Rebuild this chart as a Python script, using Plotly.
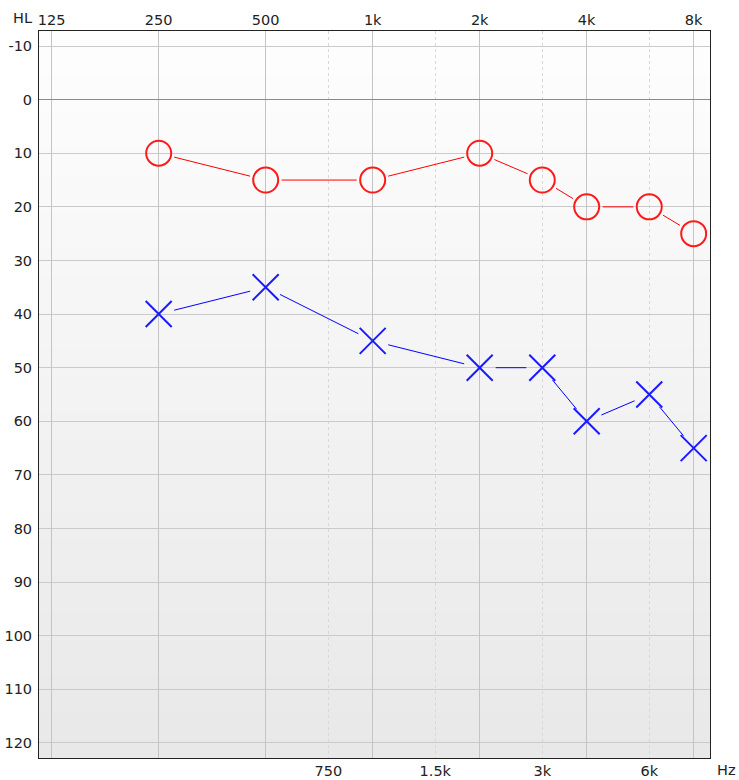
import math
import plotly.graph_objects as go

# ---- data ----
freqs = [250, 500, 1000, 2000, 3000, 4000, 6000, 8000]
right_ear_db = [10, 15, 15, 10, 15, 20, 20, 25]   # red circles
left_ear_db = [40, 35, 45, 50, 50, 60, 55, 65]    # blue crosses

top_tick_vals = [125, 250, 500, 1000, 2000, 4000, 8000]
top_tick_text = ["125", "250", "500", "1k", "2k", "4k", "8k"]
bottom_tick_vals = [750, 1500, 3000, 6000]
bottom_tick_text = ["750", "1.5k", "3k", "6k"]
db_ticks = list(range(-10, 121, 10))
db_tick_text = [str(v) for v in db_ticks]

# ---- geometry ----
W, H = 739, 780
ML, MR, MT, MB = 39, 29, 31, 22
XR = [2.0612, 3.9490]       # log10 range
YR = [122.8, -12.8]         # reversed
pw = W - ML - MR
ph = H - MT - MB
sx = pw / (XR[1] - XR[0])
sy = ph / (YR[0] - YR[1])
GAP = 16


def gapped(fs, ds):
    xs, ys = [], []
    for i in range(len(fs) - 1):
        u0, v0 = (math.log10(fs[i]) - XR[0]) * sx, ds[i] * sy
        u1, v1 = (math.log10(fs[i + 1]) - XR[0]) * sx, ds[i + 1] * sy
        L = math.hypot(u1 - u0, v1 - v0)
        if L <= 2 * GAP:
            continue
        dx, dy = (u1 - u0) / L, (v1 - v0) / L
        a = (u0 + dx * GAP, v0 + dy * GAP)
        b = (u1 - dx * GAP, v1 - dy * GAP)
        for (u, v) in (a, b):
            xs.append(10 ** (u / sx + XR[0]))
            ys.append(v / sy)
        xs.append(None)
        ys.append(None)
    return xs, ys


fig = go.Figure()

rx, ry = gapped(freqs, right_ear_db)
lx, ly = gapped(freqs, left_ear_db)
fig.add_trace(go.Scatter(x=rx, y=ry, mode="lines", line=dict(color="#ff0000", width=1),
                         hoverinfo="skip", showlegend=False, xaxis="x"))
fig.add_trace(go.Scatter(x=lx, y=ly, mode="lines", line=dict(color="#0000ff", width=1),
                         hoverinfo="skip", showlegend=False, xaxis="x"))
fig.add_trace(go.Scatter(x=freqs, y=right_ear_db, mode="markers",
                         marker=dict(symbol="circle-open", size=25, color="#ff1a1a",
                                     line=dict(width=2, color="#ff1a1a")),
                         showlegend=False, xaxis="x2", name="Right"))
fig.add_trace(go.Scatter(x=freqs, y=left_ear_db, mode="markers",
                         marker=dict(symbol="x-thin-open", size=26, color="#1a1aff",
                                     line=dict(width=2, color="#1a1aff")),
                         showlegend=False, xaxis="x2", name="Left"))

# gradient background as stripes
shapes = []
N = 80
c_top, c_bot = 254, 232
for i in range(N):
    t = (i + 0.5) / N
    c = round(c_top + (c_bot - c_top) * t)
    shapes.append(dict(type="rect", xref="paper", yref="paper", x0=0, x1=1,
                       y0=1 - (i + 1) / N, y1=1 - i / N + 0.001,
                       fillcolor=f"rgb({c},{c},{c})", line=dict(width=0), layer="below"))

font = dict(family="DejaVu Sans", size=14.5, color="#222222")

fig.update_layout(
    width=W, height=H,
    margin=dict(l=ML, r=MR, t=MT, b=MB, autoexpand=False),
    paper_bgcolor="white", plot_bgcolor="white",
    font=font,
    shapes=shapes,
    xaxis=dict(type="log", range=XR, tickvals=bottom_tick_vals, ticktext=bottom_tick_text,
               showgrid=True, gridcolor="#d8d8d8", griddash="dot", gridwidth=1,
               showline=True, linecolor="#222222", linewidth=1, mirror=True,
               ticks="", zeroline=False, tickfont=font, fixedrange=True, automargin=False),
    xaxis2=dict(type="log", range=XR, tickvals=top_tick_vals, ticktext=top_tick_text,
                overlaying="x", side="top", showgrid=True, gridcolor="#c4c4c4", gridwidth=1.3,
                showline=False, ticks="", zeroline=False, tickfont=font, fixedrange=True,
                automargin=False, ticklabelstandoff=2),
    yaxis=dict(range=YR, tickvals=db_ticks, ticktext=db_tick_text, showgrid=True,
               gridcolor="#cacaca", gridwidth=1,
               zeroline=True, zerolinecolor="#8a8a8a", zerolinewidth=1,
               showline=True, linecolor="#222222", linewidth=1, mirror=True,
               ticks="", tickfont=font, fixedrange=True, automargin=False,
               ticklabelstandoff=3),
    annotations=[
        dict(text="HL", xref="paper", yref="paper", x=0, y=1, xanchor="right", yanchor="bottom",
             xshift=-5, yshift=3, showarrow=False, font=font),
        dict(text="Hz", xref="paper", yref="paper", x=1, y=0, xanchor="left", yanchor="top",
             xshift=5, yshift=-2, showarrow=False, font=font),
    ],
)

fig.write_html("out.html", post_script="document.body.style.margin='0';",
               config={"displayModeBar": False})
